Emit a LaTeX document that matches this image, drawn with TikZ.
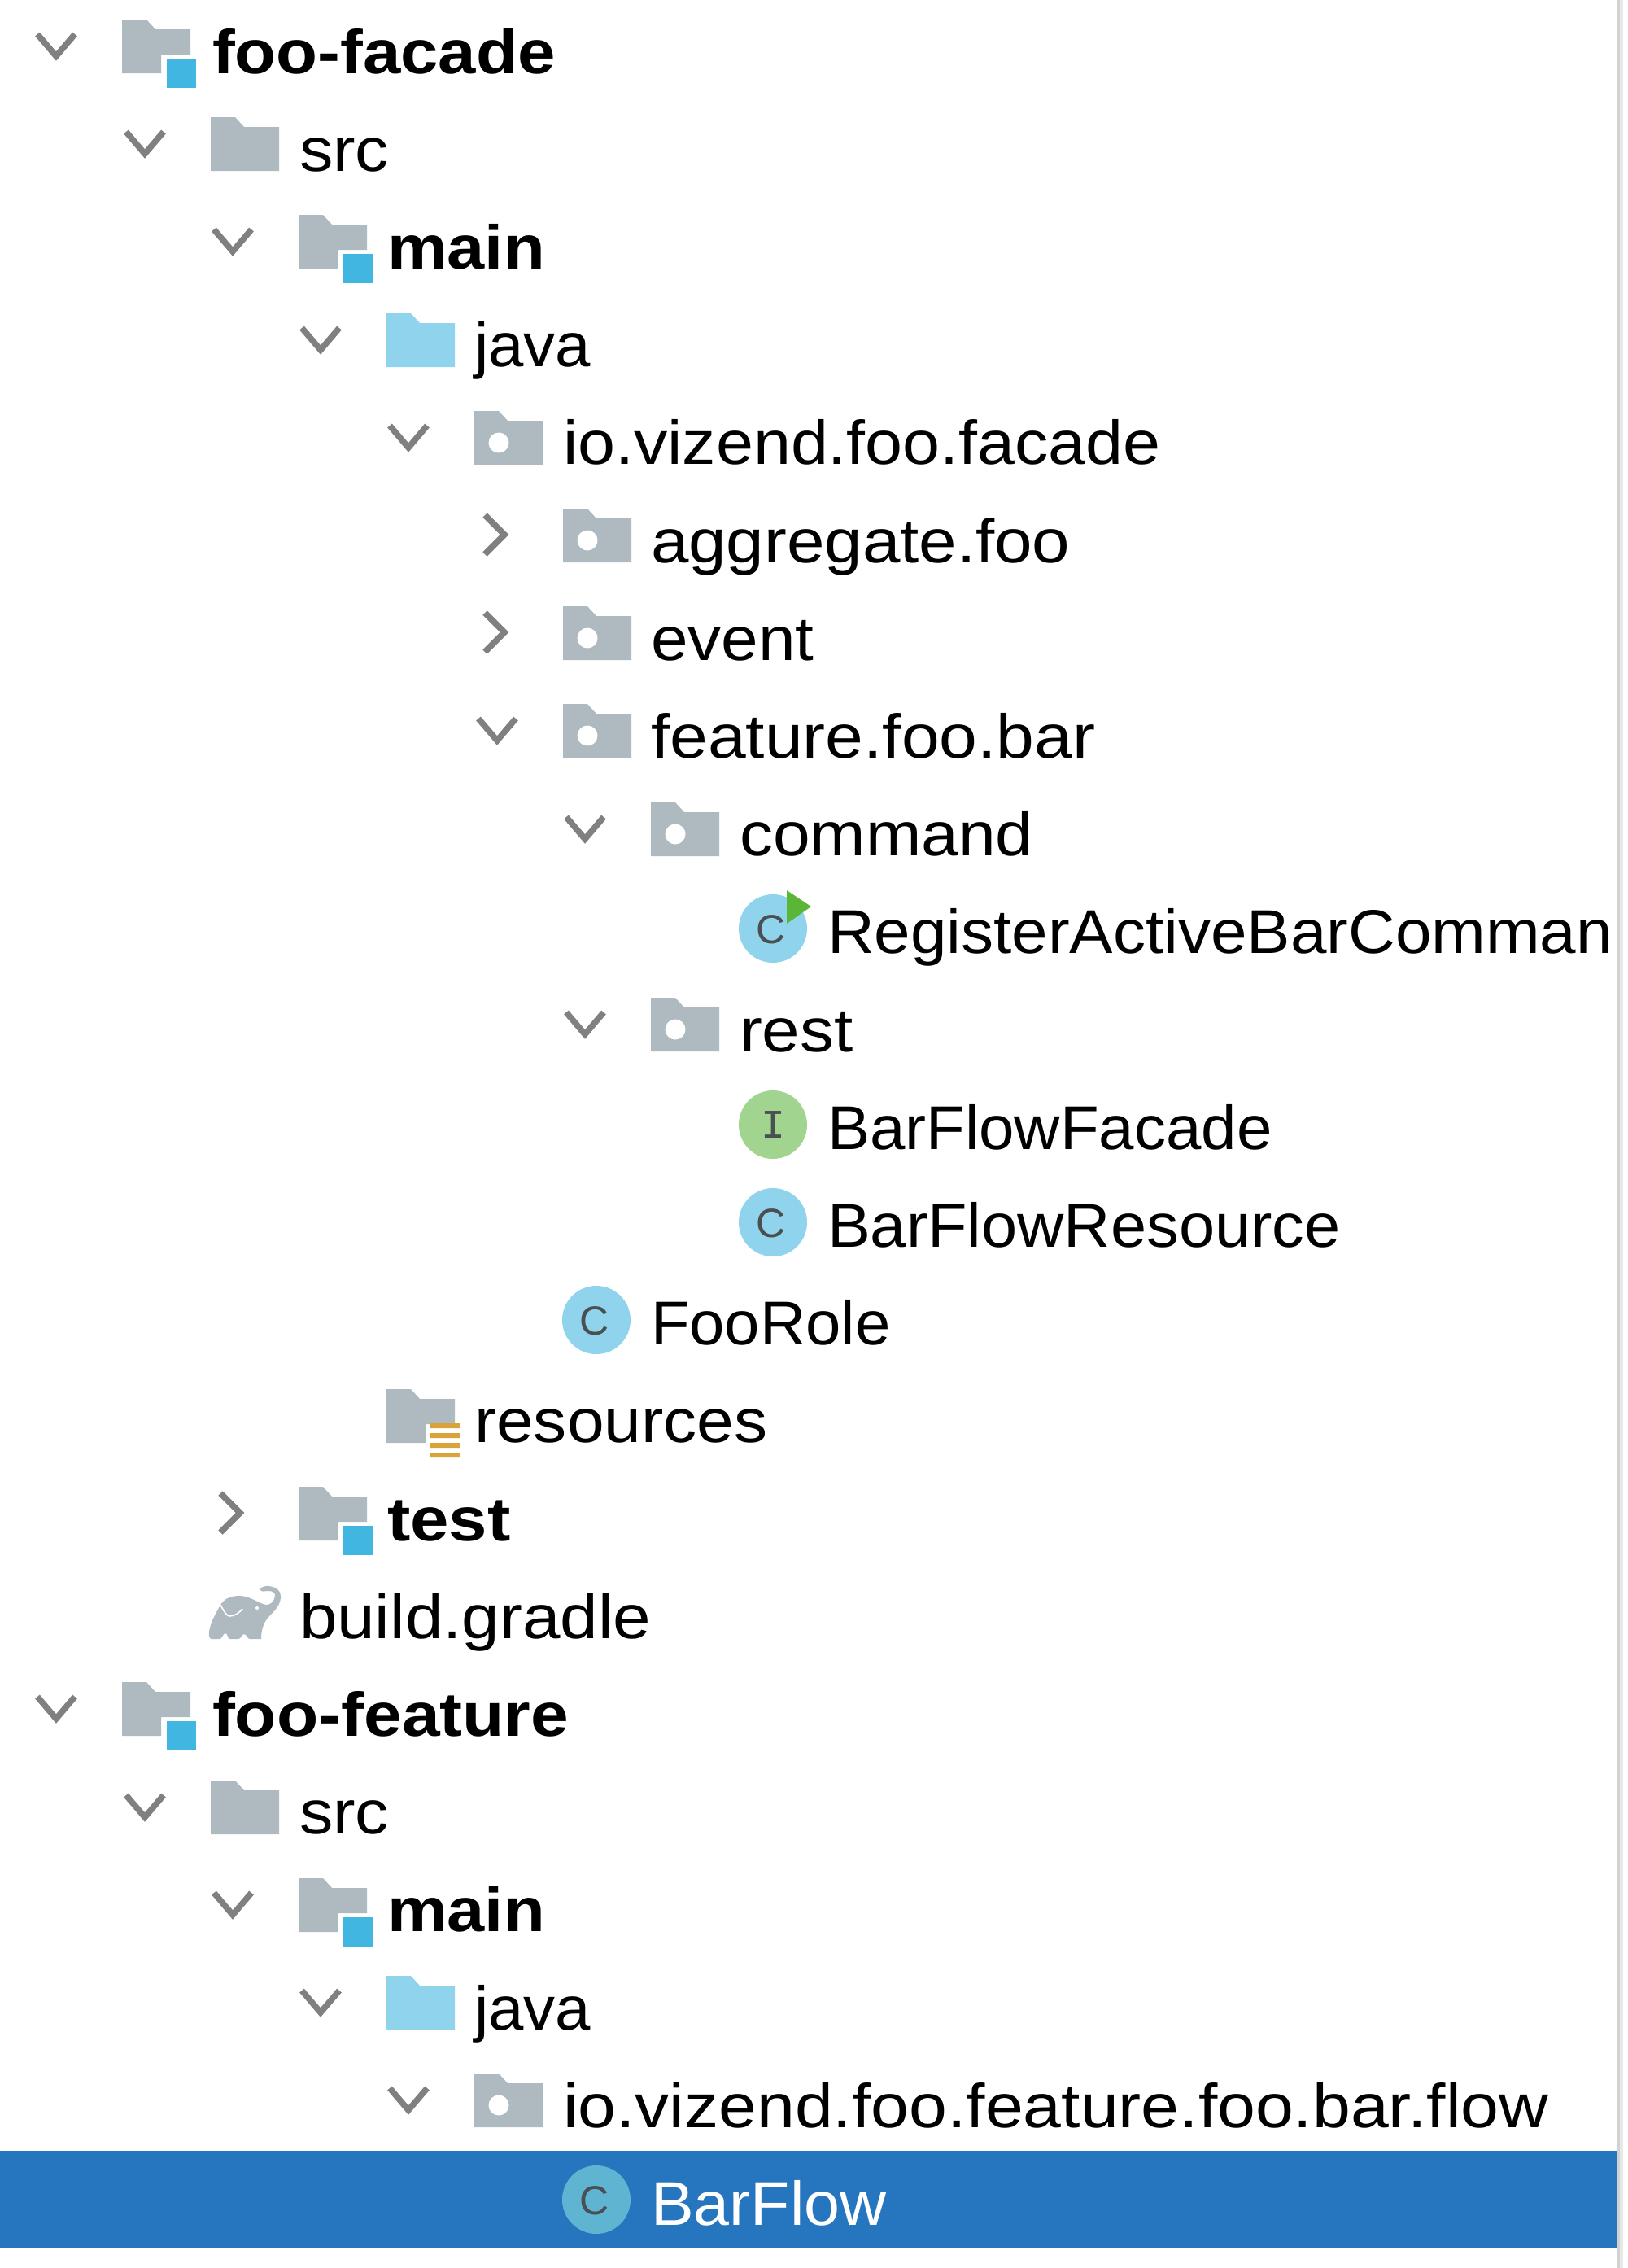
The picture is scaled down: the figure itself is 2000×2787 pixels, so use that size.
\documentclass[tikz,border=0pt]{standalone}
\usepackage{fontspec}
\setmainfont{Liberation Sans}
\newfontfamily\monoicon{Liberation Mono}
\definecolor{foldergrey}{HTML}{AEB9C0}
\definecolor{modblue}{HTML}{40B6E0}
\definecolor{srcblue}{HTML}{8FD3EC}
\definecolor{chevgrey}{HTML}{808080}
\definecolor{classblue}{HTML}{8FD3EC}
\definecolor{ifacegreen}{HTML}{A1D48F}
\definecolor{rungreen}{HTML}{5BB536}
\definecolor{resorange}{HTML}{D9A33A}
\definecolor{selblue}{HTML}{2675BF}
\definecolor{selicon}{HTML}{5FB4D2}
\definecolor{letter}{HTML}{4A4F52}
\definecolor{edgeone}{HTML}{D2D2D2}
\definecolor{edgetwo}{HTML}{E8E8E8}
\tikzset{
 x=1pt,y=-1pt,
 lbl/.style={anchor=base west,inner sep=0pt,outer sep=0pt,font=\fontsize{76}{90}\selectfont,text=black},
 blbl/.style={lbl,font=\fontsize{76}{90}\selectfont\bfseries},
 chev/.style={draw=chevgrey,line width=7.5pt,line cap=butt,line join=miter,fill=none},
 iconletter/.style={anchor=center,inner sep=0pt,text=letter,font=\fontsize{50}{50}\selectfont},
 ifaceletter/.style={anchor=center,inner sep=0pt,text=letter,font=\fontsize{50}{50}\selectfont\monoicon},
}
\newcommand{\sx}[2]{\scalebox{#1}[1]{#2}}
\newcommand{\plainfolder}[3][foldergrey]{\fill[#1] (#2,#3-66) -- ++(30,0) -- ++(11,12) -- (#2+84,#3-54) -- (#2+84,#3) -- (#2,#3) -- cycle;}
\newcommand{\notchfolder}[2]{\fill[foldergrey] (#1,#2-66) -- ++(30,0) -- ++(11,12) -- (#1+84,#2-54) -- (#1+84,#2-23) -- (#1+48,#2-23) -- (#1+48,#2) -- (#1,#2) -- cycle;}
\newcommand{\modfolder}[2]{\notchfolder{#1}{#2}\fill[modblue] (#1+55,#2-18) rectangle (#1+91,#2+18);}
\newcommand{\resfolder}[2]{\notchfolder{#1}{#2}\fill[resorange] (#1+54,#2-24) rectangle (#1+90,#2-18) (#1+54,#2-12) rectangle (#1+90,#2-6) (#1+54,#2) rectangle (#1+90,#2+6) (#1+54,#2+12) rectangle (#1+90,#2+18);}
\newcommand{\pkgfolder}[2]{\plainfolder{#1}{#2}\fill[white] (#1+30,#2-27) circle[radius=12.5];}
\newcommand{\chevdown}[2]{\draw[chev] (#1-104,#2-48) -- (#1-81,#2-21) -- (#1-58,#2-48);}
\newcommand{\chevright}[2]{\draw[chev] (#1-96,#2-58) -- (#1-72,#2-34) -- (#1-96,#2-10);}
\begin{document}
\begin{tikzpicture}
\useasboundingbox (0,0) rectangle (2000,2787);
\fill[white] (0,0) rectangle (2000,2787);
\fill[selblue] (0,2643) rectangle (1988,2763);
\fill[edgeone] (1988,0) rectangle (1991,2787);
\fill[edgetwo] (1991,0) rectangle (1995,2787);
\chevdown{150}{90}\modfolder{150}{90}\node[blbl] (r0) at (261,90.0) {\sx{1.097}{foo-facade}};
\chevdown{259}{210}\plainfolder{259}{210}\node[lbl] (r1) at (368,210.2) {\sx{1.088}{src}};
\chevdown{367}{330}\modfolder{367}{330}\node[blbl] (r2) at (476,330.4) {\sx{1.092}{main}};
\chevdown{475}{451}\plainfolder[srcblue]{475}{451}\node[lbl] (r3) at (583,450.6) {\sx{1.026}{java}};
\chevdown{583}{571}\pkgfolder{583}{571}\node[lbl] (r4) at (692,570.8) {\sx{1.087}{io.vizend.foo.facade}};
\chevright{692}{691}\pkgfolder{692}{691}\node[lbl] (r5) at (800,691.0) {\sx{1.099}{aggregate.foo}};
\chevright{692}{811}\pkgfolder{692}{811}\node[lbl] (r6) at (800,811.2) {\sx{1.078}{event}};
\chevdown{692}{931}\pkgfolder{692}{931}\node[lbl] (r7) at (800,931.4) {\sx{1.105}{feature.foo.bar}};
\chevdown{800}{1052}\pkgfolder{800}{1052}\node[lbl] (r8) at (909,1051.6) {\sx{1.08}{command}};
\fill[classblue] (950,1141) circle[radius=42];
\node[iconletter] (c9) at (948,1142) {C};
\fill[rungreen] (967,1094) -- (997,1114) -- (967,1135) -- cycle;
\begin{scope}
\clip (0,1060) rectangle (1988,1200);
\node[lbl] (r9) at (1017,1171.8) {\sx{1.053}{RegisterActiveBarComman}};
\end{scope}
\chevdown{800}{1292}\pkgfolder{800}{1292}\node[lbl] (r10) at (909,1292.0) {\sx{1.10}{rest}};
\fill[ifacegreen] (950,1382) circle[radius=42];
\node[ifaceletter] (c11) at (950,1382) {I};
\node[lbl] (r11) at (1017,1412.2) {\sx{1.027}{BarFlowFacade}};
\fill[classblue] (950,1502) circle[radius=42];
\node[iconletter] (c12) at (948,1503) {C};
\node[lbl] (r12) at (1017,1532.4) {\sx{1.044}{BarFlowResource}};
\fill[classblue] (733,1622) circle[radius=42];
\node[iconletter] (c13) at (731,1623) {C};
\node[lbl] (r13) at (800,1652.6) {\sx{1.025}{FooRole}};
\resfolder{475}{1773}\node[lbl] (r14) at (583,1772.8) {\sx{1.08}{resources}};
\chevright{367}{1893}\modfolder{367}{1893}\node[blbl] (r15) at (476,1893.0) {\sx{1.12}{test}};
% elephant
\fill[foldergrey] (257,2005) .. controls (256,2010) and (258,2014) .. (260,2014) -- (270,2014) .. controls (273,2014) and (274,2007) .. (277,2007) .. controls (280,2007) and (280,2014) .. (282,2014) -- (293,2014) .. controls (296,2014) and (297,2008) .. (300,2008) .. controls (303,2008) and (304,2014) .. (307,2014) -- (321,2014) .. controls (321,2005) and (323,1995) .. (330,1987) .. controls (338,1979) and (345,1972) .. (345,1962) .. controls (345,1953) and (337,1949) .. (328,1949) .. controls (324,1949) and (320,1951) .. (320,1953) .. controls (320,1957) and (325,1955) .. (330,1955) .. controls (335,1955) and (338,1957) .. (338,1960) .. controls (338,1967) and (333,1972) .. (328,1972) .. controls (322,1972) and (315,1966) .. (302,1962) .. controls (295,1960) and (288,1961) .. (282,1963) .. controls (276,1965) and (272,1970) .. (270,1974) .. controls (265,1983) and (259,1993) .. (257,2005) -- cycle;
\draw[white,line width=1.6pt] (271,1972) .. controls (275,1980) and (279,1986) .. (282,1986) .. controls (288,1986) and (294,1982) .. (298,1977);
\fill[white] (316,1976) circle[radius=2];
\node[lbl] (r16) at (368,2013.2) {\sx{1.10}{build.gradle}};
\chevdown{150}{2133}\modfolder{150}{2133}\node[blbl] (r17) at (261,2133.4) {\sx{1.104}{foo-feature}};
\chevdown{259}{2254}\plainfolder{259}{2254}\node[lbl] (r18) at (368,2253.6) {\sx{1.088}{src}};
\chevdown{367}{2374}\modfolder{367}{2374}\node[blbl] (r19) at (476,2373.8) {\sx{1.092}{main}};
\chevdown{475}{2494}\plainfolder[srcblue]{475}{2494}\node[lbl] (r20) at (583,2494.0) {\sx{1.026}{java}};
\chevdown{583}{2614}\pkgfolder{583}{2614}\node[lbl] (r21) at (692,2614.2) {\sx{1.107}{io.vizend.foo.feature.foo.bar.flow}};
\fill[selicon] (733,2703) circle[radius=42];
\node[iconletter] (c22) at (731,2704) {C};
\node[lbl,text=white] (r22) at (800,2734.4) {\sx{1.039}{BarFlow}};
\end{tikzpicture}
\end{document}
